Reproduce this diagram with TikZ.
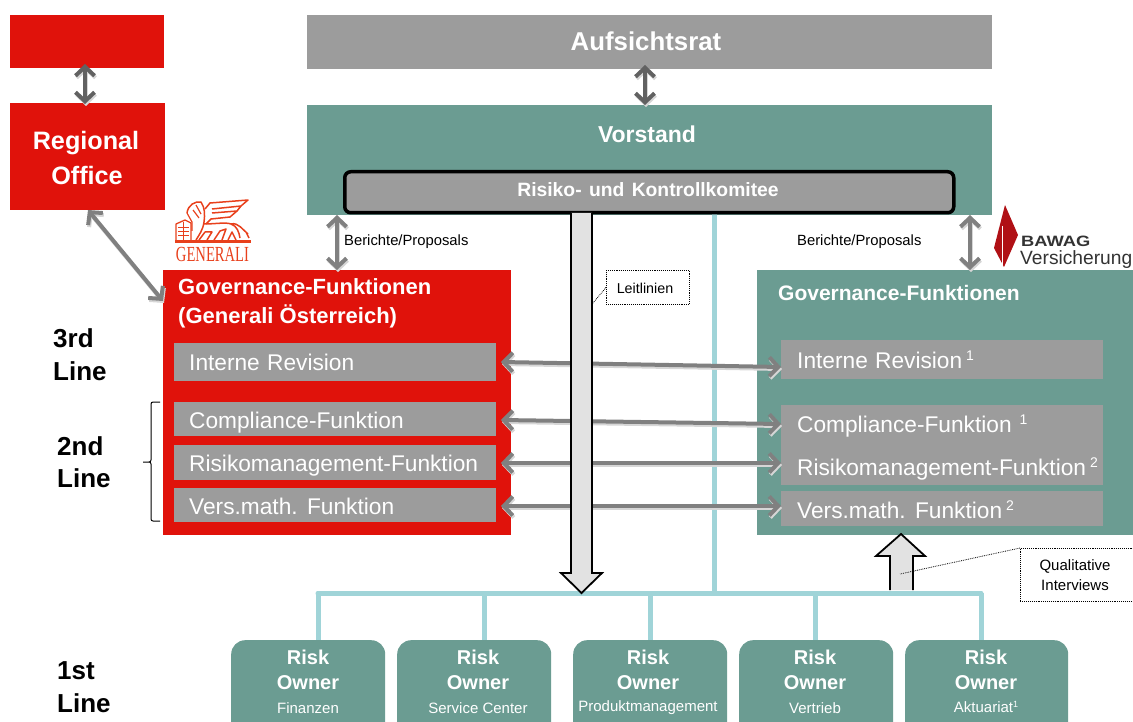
\documentclass[tikz,border=0pt]{standalone}
\usepackage{fontspec}
\setmainfont{Liberation Sans}
\usetikzlibrary{arrows.meta,positioning}
\definecolor{gred}{HTML}{E0120B}
\definecolor{teal}{HTML}{6B9C92}
\definecolor{gbar}{HTML}{9C9C9C}
\definecolor{lblue}{HTML}{A0D4D8}
\definecolor{lionred}{HTML}{E8401C}
\definecolor{bawagred}{HTML}{B01015}
\definecolor{lgray}{HTML}{E2E2E2}
\newcommand{\fs}[1]{\fontsize{#1}{#1}\selectfont}
\tikzset{
 x=1pt,y=-1pt,
 blockbox/.style={anchor=north west,inner sep=0pt,align=center,text=white,font=\bfseries},
 barbox/.style={anchor=north west,inner sep=0pt,fill=gbar},
 bartext/.style={anchor=west,inner sep=0pt,text=white,font=\fs{22.7},text height=16pt,text depth=0pt},
 owner/.style={anchor=north west,inner sep=0pt,fill=teal,rounded corners=14pt,text=white,align=center},
 shade/.style={draw=black!16,line width=4pt,{Straight Barb[length=9pt,width=19pt,line width=4pt]}-{Straight Barb[length=9pt,width=19pt,line width=4pt]}},
 flow/.style={draw=#1,line width=4pt,{Straight Barb[length=9pt,width=19pt,line width=4pt]}-{Straight Barb[length=9pt,width=19pt,line width=4pt]}},
 flow/.default={black!50},
 blueline/.style={draw=lblue,line width=5pt},
 note/.style={draw=black,densely dotted,line width=.9pt,fill=white,inner sep=0pt,anchor=north west,align=center},
 leader/.style={draw=black,densely dotted,line width=.8pt},
 tag/.style={inner sep=0pt,font=\fs{14.8}},
 linelabel/.style={inner sep=0pt,font=\fs{26}\bfseries,anchor=west},
 bigarrow/.style={draw=black,line width=1.8pt,fill=lgray,line join=miter},
 risk/.style={inner sep=0pt,text=white,font=\fs{20}\bfseries},
 subt/.style={inner sep=0pt,text=white,font=\fs{15}},
}
\newcommand{\dbl}[3][black!50]{%
 \draw[shade,transform canvas={xshift=1pt,yshift=-2pt}] #2 -- #3;
 \draw[flow=#1] #2 -- #3;}
\newcommand{\sups}[1]{\hspace{4pt}\raisebox{8pt}{\fs{14}#1}}
\begin{document}
\begin{tikzpicture}
\useasboundingbox (0,0) rectangle (1133,722);
% blocks
\node[blockbox,fill=gred,minimum width=154pt,minimum height=53pt] (topred) at (10,15) {};
\node[blockbox,fill=gred,minimum width=155pt,minimum height=107pt] (regional) at (10,103) {};
\node[inner sep=0pt,text=white,font=\fs{25.2}\bfseries] (regt) at (86,143) {Regional};
\node[inner sep=0pt,text=white,font=\fs{25.2}\bfseries] (regu) at (87,175) {Office};
\node[blockbox,fill=gbar,minimum width=685pt,minimum height=54pt] (aufsicht) at (307,15) {};
\node[inner sep=0pt,text=white,font=\fs{25.8}\bfseries] (auft) at (646,41) {Aufsichtsrat};
\node[blockbox,fill=teal,minimum width=685pt,minimum height=110pt] (vorstand) at (307,105) {};
\node[inner sep=0pt,text=white,font=\fs{23}\bfseries] (vorstandt) at (647,134) {Vorstand};
% blue tree and stem (stem passes behind the committee box)
\coordinate (tl) at (318,593); \coordinate (tr) at (981,593); \coordinate (tj) at (714,593);
\draw[blueline] (714,205) -- (tj);
\node[blockbox,fill=gbar,draw=black,line width=3.5pt,rounded corners=6pt,minimum width=609pt,minimum height=41pt] (komitee) at (343,170) {};
\node[inner sep=0pt,text=white,font=\fs{19.3}\bfseries] (komt) at (648,190) {Risiko-\hspace{2pt} und\hspace{2pt} Kontrollkomitee};
% governance boxes
\node[blockbox,fill=gred,minimum width=348pt,minimum height=265pt] (govl) at (163,270) {};
\node[blockbox,fill=teal,minimum width=376pt,minimum height=265pt] (govr) at (757,270) {};
\node[anchor=west,inner sep=0pt,text=white,font=\fs{22}\bfseries] (govlt) at (178,287) {Governance-Funktionen};
\node[anchor=west,inner sep=0pt,text=white,font=\fs{22}\bfseries] (govlu) at (178,316) {(Generali Österreich)};
\node[anchor=west,inner sep=0pt,text=white,font=\fs{21}\bfseries] (govrt) at (778,293) {Governance-Funktionen};
% left bars
\node[barbox,minimum width=322pt,minimum height=38pt] (l1) at (174,343) {};
\node[barbox,minimum width=322pt,minimum height=34pt] (l2) at (174,402) {};
\node[barbox,minimum width=322pt,minimum height=35pt] (l3) at (174,445) {};
\node[barbox,minimum width=322pt,minimum height=34pt] (l4) at (174,488) {};
\node[bartext] (l1t) at (189,362) {Interne\hspace{1pt} Revision};
\node[bartext] (l2t) at (189,420) {Compliance-Funktion};
\node[bartext] (l3t) at (189,463) {Risikomanagement-Funktion};
\node[bartext] (l4t) at (189,506) {Vers.math.\hspace{1pt} Funktion};
% right bars
\node[barbox,minimum width=322pt,minimum height=39pt] (r1) at (781,340) {};
\node[barbox,minimum width=322pt,minimum height=80pt] (r2) at (781,405) {};
\node[barbox,minimum width=322pt,minimum height=35pt] (r4) at (781,491) {};
\node[bartext] (r1t) at (797,360) {Interne\hspace{1pt} Revision\sups{1}};
\node[bartext] (r2a) at (797,424) {Compliance-Funktion\hspace{4pt}\sups{1}};
\node[bartext] (r2b) at (797,467) {Risikomanagement-Funktion\sups{2}};
\node[bartext] (r4t) at (797,510) {Vers.math.\hspace{1pt} Funktion\sups{2}};
% line labels
\node[linelabel] (third) at (53,338) {3rd};
\node[linelabel] (thirdb) at (53,371) {Line};
\node[linelabel] (second) at (57,446) {2nd};
\node[linelabel] (secondb) at (57,478) {Line};
\node[linelabel] (first) at (57,671) {1st};
\node[linelabel] (firstb) at (57,703) {Line};
\coordinate (bt) at (160,402); \coordinate (bb) at (160,521); \coordinate (bm) at (142,462);
\draw[black,line width=1pt,rounded corners=2pt] (bt) -- (151,402) -- (151,462) -- (bm) -- (151,462) -- (151,521) -- (bb);
% owners
\node[owner,minimum width=154pt,minimum height=100pt] (o1) at (231,640) {};
\node[owner,minimum width=154pt,minimum height=100pt] (o2) at (397,640) {};
\node[owner,minimum width=154pt,minimum height=100pt] (o3) at (573,640) {};
\node[owner,minimum width=154pt,minimum height=100pt] (o4) at (739,640) {};
\node[owner,minimum width=163pt,minimum height=100pt] (o5) at (905,640) {};
\draw[blueline,line cap=round] (tl) -- (tr);
\draw[blueline] (tl) -- (tl |- o1.north);
\draw[blueline] (484,593) -- (484,640);
\draw[blueline] (650,593) -- (650,640);
\draw[blueline] (815,593) -- (815,640);
\draw[blueline] (tr) -- (tr |- o5.north);
% owner labels
\foreach \n/\cx/\sub in {a/308/Finanzen,b/478/Service Center,c/648/Produktmanagement,d/815/Vertrieb}{
 \node[risk] (risk\n) at (\cx,657) {Risk};
 \node[risk] (own\n) at (\cx,683) {Owner};
 \node[subt] (sub\n) at (\cx,708) {\sub};
}
\node[risk] (riske) at (986,657) {Risk};
\node[risk] (owne) at (986,683) {Owner};
\node[subt] (sube) at (986,707) {Aktuariat\raisebox{5pt}{\fs{9}1}};
% big arrows
\coordinate (dtip) at (581.5,593);
\coordinate (utip) at (901,534);
\draw[bigarrow] (890,590) -- (890,556) -- (876,556) -- (utip) -- (925,556) -- (913,556) -- (913,590);
% double arrows
\coordinate (a1) at (85,64); \coordinate (a2) at (85,104);
\dbl[black!62]{(a1)}{(a2)}
\coordinate (a3) at (645,65); \coordinate (a4) at (645,105);
\dbl[black!62]{(a3)}{(a4)}
\coordinate (a5) at (337,215); \coordinate (a6) at (337,270);
\dbl{(a5)}{(a6)}
\coordinate (a7) at (970,215); \coordinate (a8) at (970,270);
\dbl{(a7)}{(a8)}
\coordinate (a9) at (88,210); \coordinate (a10) at (163,301);
\dbl{(a9)}{(a10)}
\coordinate (h1a) at (501,362); \coordinate (h1b) at (781,367);
\dbl{(h1a)}{(h1b)}
\coordinate (h2a) at (501,420); \coordinate (h2b) at (781,424);
\dbl{(h2a)}{(h2b)}
\coordinate (h3a) at (501,463); \coordinate (h3b) at (781,463);
\dbl{(h3a)}{(h3b)}
\coordinate (h4a) at (501,506); \coordinate (h4b) at (781,506);
\dbl{(h4a)}{(h4b)}
% down-arrow over the horizontal arrows
\draw[bigarrow] (571,213) -- (571,573) -- (561,573) -- (dtip) -- (602,573) -- (592,573) -- (592,213);
% tags
\node[tag,anchor=west] (b1) at (344,242) {Berichte/Proposals};
\node[tag,anchor=west] (b2) at (797,242) {Berichte/Proposals};
\node[note,minimum width=83pt,minimum height=34pt] (leit) at (606,270) {};
\node[inner sep=0pt,font=\fs{14.3}] (leitt) at (645,288) {Leitlinien};
\coordinate (leitend) at (593,303);
\draw[leader] (leit.west) -- (leitend);
\node[note,minimum width=114pt,minimum height=53pt] (qual) at (1020,548) {};
\node[inner sep=0pt,font=\fs{15}] (qualt) at (1075,566) {Qualitative};
\node[inner sep=0pt,font=\fs{15}] (qualu) at (1075,585) {Interviews};
\coordinate (qualend) at (900,574);
\draw[leader] (qual.north west) -- (qualend);
% Generali logo
\begin{scope}[lionred]
 \fill (175,240) rectangle (251,243.5);
 \draw[line width=1.3pt,line join=round] (176,240) -- (176,224) -- (185,220) -- (191,223) -- (191,240);
 \draw[line width=.8pt] (178,227) -- (189,227) (178,231) -- (189,231) (178,235) -- (189,235) (183.5,222) -- (183.5,240);
 \draw[line width=1.5pt,line join=round] (187,213) .. controls (188,205) and (195,201) .. (201,202)
   .. controls (205,208) and (205,214) .. (204,222) .. controls (203,230) and (199,235) .. (196,240);
 \draw[line width=1.2pt] (187,213) -- (192,222) -- (192,231) (193,210) -- (199,218) (196,205) -- (201,214);
 \draw[line width=1.5pt,line join=round] (205,209) -- (210,203) -- (248,200) -- (241,206) -- (212,209) (241,206) -- (237,211) -- (212,213) (237,211) -- (230,217) -- (211,219) -- (206,224);
 \draw[line width=1.5pt,line join=round] (204,224) .. controls (215,224) and (226,222) .. (231,224) .. controls (237,226) and (239,232) .. (240,238)
   (231,224) .. controls (238,222) and (243,230) .. (248,234) (246,232) -- (249,238);
 \draw[line width=1.5pt,line join=round] (199,240) -- (205,232) -- (212,232) -- (207,240) (214,240) -- (220,231) -- (226,229) -- (222,240) (228,240) -- (232,232) -- (236,240);
 \node[inner sep=0pt,anchor=center,font=\fontspec{Liberation Serif}\fs{21.5}] (genlogo) at (212.5,254.5) {\scalebox{.68}[1]{GENERALI}};
\end{scope}
% BAWAG logo
\fill[bawagred] (1005,205) -- (1018,235) -- (1004,267) -- (994,248) -- cycle;
\draw[white,line width=1pt] (1002.5,226) -- (1002.5,268);
\node[inner sep=0pt,anchor=west,font=\fs{15}\bfseries,text=black!80] (bawag) at (1021,241) {\scalebox{1.22}[1]{BAWAG}};
\node[inner sep=0pt,anchor=west,font=\fs{19.2},text=black!80] (vers) at (1020,259.5) {Versicherung};
\end{tikzpicture}
\end{document}
